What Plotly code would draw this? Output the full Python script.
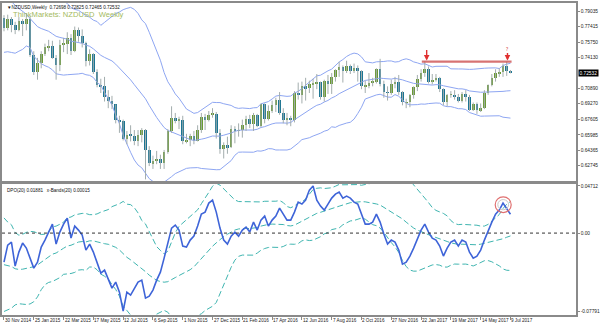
import numpy as np
import pandas as pd
import plotly.graph_objects as go

# ---------------- data ----------------
tick_labels = ["30 Nov 2014", "25 Jan 2015", "22 Mar 2015", "17 May 2015", "12 Jul 2015",
               "6 Sep 2015", "1 Nov 2015", "27 Dec 2015", "21 Feb 2016", "17 Apr 2016",
               "12 Jun 2016", "7 Aug 2016", "2 Oct 2016", "27 Nov 2016", "22 Jan 2017",
               "19 Mar 2017", "14 May 2017", "9 Jul 2017"]
tick_step = 8

price_ticks = [0.79035, 0.77415, 0.75750, 0.74130, 0.70890, 0.69270, 0.67605,
               0.65985, 0.64365, 0.62745, 0.61125]
dpo_ticks = [0.04712, 0.0, -0.07791]
dpo_tick_text = ["0.04712", "0.00", "-0.07791"]

# weekly closes before the visible window (Bollinger warm-up only)
pre_closes = [0.8640, 0.8500,
              0.8470, 0.8480, 0.8400, 0.8370, 0.8360,
              0.8170, 0.8160, 0.7850, 0.7760,
              0.7870, 0.7940, 0.7860, 0.7780,
              0.7680, 0.7860, 0.7900, 0.7830]

opens = [0.7830, 0.7720, 0.7820, 0.7760, 0.7700, 0.7800, 0.7770, 0.7820, 0.7440, 0.7260,
         0.7360, 0.7450, 0.7520, 0.7530, 0.7410, 0.7330, 0.7550, 0.7560, 0.7620, 0.7480,
         0.7700, 0.7640, 0.7570, 0.7380, 0.7450, 0.7260, 0.7120, 0.7110, 0.7000, 0.6960,
         0.6920, 0.6760, 0.6740, 0.6560, 0.6600, 0.6590, 0.6530, 0.6600, 0.6650, 0.6440,
         0.6300, 0.6320, 0.6350, 0.6300, 0.6420, 0.6640, 0.6780, 0.6750, 0.6760, 0.6530,
         0.6550, 0.6590, 0.6530, 0.6650, 0.6790, 0.6760, 0.6810, 0.6820, 0.6620, 0.6450,
         0.6490, 0.6470, 0.6660, 0.6640, 0.6650, 0.6700, 0.6770, 0.6710, 0.6810, 0.6690,
         0.6920, 0.6770, 0.6850, 0.6910, 0.6970, 0.6830, 0.6760, 0.6770, 0.6760, 0.7040,
         0.7020, 0.7110, 0.7090, 0.7130, 0.7140, 0.7160, 0.7000, 0.7170, 0.7140, 0.7210,
         0.7280, 0.7310, 0.7270, 0.7320, 0.7270, 0.7300, 0.7270, 0.7110, 0.7110, 0.7150,
         0.7160, 0.7290, 0.7140, 0.7050, 0.7040, 0.7140, 0.7160, 0.7050, 0.6940, 0.6940,
         0.7020, 0.7100, 0.7190, 0.7250, 0.7290, 0.7160, 0.7180, 0.7200, 0.7080, 0.6940,
         0.7020, 0.7020, 0.7000, 0.6960, 0.7030, 0.7000, 0.6860, 0.6920, 0.6860, 0.6880,
         0.7040, 0.7120, 0.7200, 0.7250, 0.7260, 0.7320, 0.72698]
highs = [0.7860, 0.7865, 0.7840, 0.7790, 0.7840, 0.7820, 0.7880, 0.7850, 0.7480, 0.7410,
         0.7480, 0.7560, 0.7600, 0.7590, 0.7440, 0.7600, 0.7620, 0.7680, 0.7660, 0.7740,
         0.7730, 0.7710, 0.7580, 0.7500, 0.7460, 0.7290, 0.7190, 0.7210, 0.7070, 0.7010,
         0.6920, 0.6800, 0.6760, 0.6640, 0.6700, 0.6650, 0.6650, 0.6670, 0.6660, 0.6480,
         0.6380, 0.6430, 0.6390, 0.6440, 0.6660, 0.6900, 0.6830, 0.6790, 0.6800, 0.6610,
         0.6610, 0.6640, 0.6700, 0.6830, 0.6820, 0.6850, 0.6880, 0.6840, 0.6660, 0.6520,
         0.6580, 0.6700, 0.6690, 0.6720, 0.6760, 0.6800, 0.6810, 0.6830, 0.6820, 0.6930,
         0.6930, 0.6910, 0.6960, 0.6990, 0.7050, 0.6880, 0.6830, 0.6800, 0.7060, 0.7150,
         0.7160, 0.7200, 0.7170, 0.7190, 0.7240, 0.7160, 0.7180, 0.7230, 0.7250, 0.7290,
         0.7370, 0.7330, 0.7380, 0.7340, 0.7350, 0.7330, 0.7280, 0.7170, 0.7250, 0.7200,
         0.7300, 0.7400, 0.7170, 0.7110, 0.7180, 0.7210, 0.7230, 0.7060, 0.6980, 0.7030,
         0.7110, 0.7230, 0.7290, 0.7375, 0.7320, 0.7240, 0.7240, 0.7210, 0.7090, 0.7030,
         0.7060, 0.7070, 0.7030, 0.7050, 0.7070, 0.7020, 0.6940, 0.6940, 0.6930, 0.7070,
         0.7130, 0.7240, 0.7290, 0.7300, 0.7350, 0.7370, 0.72825]
lows = [0.7690, 0.7700, 0.7680, 0.7660, 0.7690, 0.7640, 0.7700, 0.7420, 0.7230, 0.7180,
        0.7300, 0.7430, 0.7480, 0.7400, 0.7180, 0.7270, 0.7470, 0.7450, 0.7440, 0.7470,
        0.7580, 0.7520, 0.7320, 0.7330, 0.7240, 0.7100, 0.7040, 0.6950, 0.6880, 0.6870,
        0.6720, 0.6620, 0.6540, 0.6500, 0.6530, 0.6490, 0.6480, 0.6520, 0.6130, 0.6270,
        0.6240, 0.6290, 0.6240, 0.6240, 0.6400, 0.6620, 0.6720, 0.6660, 0.6500, 0.6510,
        0.6480, 0.6500, 0.6530, 0.6620, 0.6650, 0.6740, 0.6780, 0.6560, 0.6400, 0.6350,
        0.6400, 0.6460, 0.6510, 0.6580, 0.6570, 0.6640, 0.6670, 0.6640, 0.6680, 0.6680,
        0.6720, 0.6750, 0.6830, 0.6840, 0.6810, 0.6720, 0.6700, 0.6690, 0.6730, 0.6970,
        0.6930, 0.6960, 0.7040, 0.6980, 0.7080, 0.6970, 0.6950, 0.7030, 0.7030, 0.7160,
        0.7210, 0.7150, 0.7250, 0.7240, 0.7250, 0.7160, 0.7080, 0.7040, 0.7090, 0.7110,
        0.7140, 0.7110, 0.6990, 0.6960, 0.7020, 0.7090, 0.7020, 0.6910, 0.6880, 0.6890,
        0.6980, 0.7060, 0.7160, 0.7210, 0.7140, 0.7130, 0.7160, 0.7050, 0.6910, 0.6900,
        0.6990, 0.6970, 0.6940, 0.6940, 0.6950, 0.6850, 0.6850, 0.6820, 0.6840, 0.6870,
        0.7020, 0.7110, 0.7160, 0.7210, 0.7210, 0.7220, 0.72465]
closes = [0.7720, 0.7820, 0.7760, 0.7700, 0.7800, 0.7770, 0.7820, 0.7440, 0.7260, 0.7360,
          0.7450, 0.7520, 0.7530, 0.7410, 0.7330, 0.7550, 0.7560, 0.7620, 0.7480, 0.7700,
          0.7640, 0.7570, 0.7380, 0.7450, 0.7260, 0.7120, 0.7110, 0.7000, 0.6960, 0.6920,
          0.6760, 0.6740, 0.6560, 0.6600, 0.6590, 0.6530, 0.6600, 0.6650, 0.6440, 0.6300,
          0.6320, 0.6350, 0.6300, 0.6420, 0.6640, 0.6780, 0.6750, 0.6760, 0.6530, 0.6550,
          0.6590, 0.6530, 0.6650, 0.6790, 0.6760, 0.6810, 0.6820, 0.6620, 0.6450, 0.6490,
          0.6470, 0.6660, 0.6640, 0.6650, 0.6700, 0.6770, 0.6710, 0.6810, 0.6690, 0.6920,
          0.6770, 0.6850, 0.6910, 0.6970, 0.6830, 0.6760, 0.6770, 0.6760, 0.7040, 0.7020,
          0.7110, 0.7090, 0.7130, 0.7140, 0.7160, 0.7000, 0.7170, 0.7140, 0.7210, 0.7280,
          0.7310, 0.7270, 0.7320, 0.7270, 0.7300, 0.7270, 0.7110, 0.7110, 0.7150, 0.7160,
          0.7290, 0.7140, 0.7050, 0.7040, 0.7140, 0.7160, 0.7050, 0.6940, 0.6940, 0.7020,
          0.7100, 0.7190, 0.7250, 0.7290, 0.7160, 0.7180, 0.7200, 0.7080, 0.6940, 0.7020,
          0.7020, 0.7000, 0.6960, 0.7030, 0.7000, 0.6860, 0.6920, 0.6860, 0.6880, 0.7040,
          0.7120, 0.7200, 0.7250, 0.7260, 0.7320, 0.7270, 0.72532]

dpo_values = [-0.029, -0.012, -0.009, -0.033, -0.019, -0.010, -0.015, -0.025, -0.035, -0.029,
              -0.014, -0.007, 0.001, 0.009, -0.011, 0.001, 0.009, 0.015, -0.005, 0.007,
              0.003, -0.002, -0.017, -0.011, -0.019, -0.030, -0.040, -0.037, -0.047, -0.055,
              -0.049, -0.059, -0.0779, -0.059, -0.062, -0.055, -0.049, -0.047, -0.065, -0.063,
              -0.057, -0.047, -0.039, -0.025, -0.009, 0.005, 0.008, 0.003, -0.013, -0.014,
              -0.007, -0.003, 0.007, 0.019, 0.021, 0.030, 0.033, 0.021, 0.005, -0.007,
              -0.011, -0.003, 0.001, -0.003, 0.003, 0.006, 0.001, 0.011, 0.003, 0.013,
              0.017, 0.007, 0.013, 0.017, 0.025, 0.019, 0.013, 0.013, 0.021, 0.031,
              0.029, 0.033, 0.043, 0.0471, 0.033, 0.027, 0.023, 0.029, 0.035, 0.039,
              0.041, 0.035, 0.037, 0.035, 0.031, 0.029, 0.018, 0.009, 0.009, 0.011,
              0.019, 0.011, -0.001, -0.011, -0.007, -0.009, -0.017, -0.031, -0.029, -0.023,
              -0.015, -0.005, 0.003, 0.009, 0.001, -0.005, -0.007, -0.013, -0.023, -0.015,
              -0.009, -0.007, -0.013, -0.007, -0.009, -0.019, -0.025, -0.023, -0.017, -0.007,
              0.003, 0.011, 0.019, 0.023, 0.030, 0.025, 0.01881]
# DPO values of the weeks before the window (Bands warm-up only)
pre_dpo = [0.010, 0.005, 0.012, -0.005, -0.015, -0.030, -0.040, -0.055, -0.065, -0.070,
           -0.060, -0.050, -0.045, -0.035, -0.040, -0.045, -0.030, -0.020, -0.025]

resistance_level = 0.7371
resistance_from, resistance_to = 113, 136

# ---------------- indicators (Bollinger 20/2 on price, Bands 20/2 on DPO) ----------------
n = len(closes)
s = pd.Series(pre_closes + closes, index=range(-len(pre_closes), n))
mid = s.rolling(20).mean()
sd = s.rolling(20).std(ddof=0)
upper, lower = mid + 2 * sd, mid - 2 * sd

d = pd.Series(pre_dpo + dpo_values, index=range(-len(pre_dpo), n))
dmid = d.rolling(20).mean()
dsd = d.rolling(20).std(ddof=0)
dup, dlo = dmid + 2 * dsd, dmid - 2 * dsd

# ---------------- figure ----------------
BULL = "#6a9a34"
BEAR = "#1b7593"
WICK = "#a3adad"
BB = "#8ea6f2"
DPOC = "#3e64d8"
DB = "#3fb5b0"
AX = "#8a8a8a"
FONT = "Liberation Sans"

fig = go.Figure()
for band in (upper, mid, lower):
    fig.add_trace(go.Scatter(x=list(s.index), y=band.values, mode="lines",
                             line=dict(color=BB, width=1), hoverinfo="skip",
                             xaxis="x", yaxis="y"))

wx, wy = [], []
for i in range(n):
    wx += [i, i, None]
    wy += [lows[i], highs[i], None]
fig.add_trace(go.Scatter(x=wx, y=wy, mode="lines", line=dict(color=WICK, width=1),
                         hoverinfo="skip", xaxis="x", yaxis="y"))

for bull, col in ((True, BULL), (False, BEAR)):
    ids = [i for i in range(n) if (closes[i] >= opens[i]) == bull]
    base = [min(opens[i], closes[i]) for i in ids]
    hgt = [max(abs(closes[i] - opens[i]), 0.0004) for i in ids]
    fig.add_trace(go.Bar(x=ids, y=hgt, base=base, width=0.72,
                         marker=dict(color=col, line=dict(width=0)),
                         xaxis="x", yaxis="y", hoverinfo="skip"))

for band in (dup, dmid, dlo):
    fig.add_trace(go.Scatter(x=list(d.index), y=band.values, mode="lines",
                             line=dict(color=DB, width=1, dash="6px,3px"),
                             hoverinfo="skip", xaxis="x2", yaxis="y2"))
fig.add_trace(go.Scatter(x=list(range(n)), y=dpo_values, mode="lines",
                         line=dict(color=DPOC, width=1.6), hoverinfo="skip",
                         xaxis="x2", yaxis="y2"))

# resistance line
fig.add_trace(go.Scatter(x=[resistance_from - 0.8, resistance_to + 0.3],
                         y=[resistance_level, resistance_level], mode="lines",
                         line=dict(color="rgba(205,80,80,0.8)", width=2.2),
                         hoverinfo="skip", xaxis="x", yaxis="y"))

px_per_bar = 3.75
plot_w = 578
r0 = -2 / px_per_bar
r1 = r0 + plot_w / px_per_bar

ann = []
for k, lab in enumerate(tick_labels):
    ann.append(dict(x=k * tick_step, y=0, xref="x2", yref="paper", text=lab,
                    showarrow=False, xanchor="left", yanchor="top", xshift=-1, yshift=-1,
                    font=dict(size=4.6, color="#222", family=FONT)))
ann.append(dict(x=0.005, y=1, xref="paper", yref="paper", xanchor="left", yanchor="top",
                showarrow=False,
                text="▼NZDUSD,Weekly  0.72698 0.72825 0.72465 0.72532",
                font=dict(size=4.6, color="#111", family=FONT)))
ann.append(dict(x=0.015, y=0.985, xref="paper", yref="paper", xanchor="left", yanchor="top",
                showarrow=False, text="ThinkMarkets: NZDUSD  Weekly",
                font=dict(size=7.6, color="#a3ba5e", family=FONT)))
ann.append(dict(x=0.006, y=0.4199, xref="paper", yref="paper", xanchor="left", yanchor="top",
                yshift=-2, showarrow=False,
                text="DPO(20) 0.01881   x-Bands(20) 0.00015",
                font=dict(size=4.6, color="#111", family=FONT)))
ann.append(dict(x=1, y=closes[-1], xref="paper", yref="y", xanchor="left", xshift=2,
                showarrow=False, text="%.5f" % closes[-1], bgcolor="#000",
                font=dict(size=4.8, color="#fff", family=FONT), borderpad=0.5))
for xa, q in ((113.5, ""), (135.2, "?")):
    ann.append(dict(x=xa, y=resistance_level + 0.001, xref="x", yref="y", ax=0, ay=-12,
                    showarrow=True, arrowhead=2, arrowsize=0.8, arrowwidth=1.4,
                    arrowcolor="#e03030", text=q, font=dict(size=5, color="#d03030")))

shapes = [dict(type="line", xref="paper", yref="y2", x0=0, x1=1, y0=0, y1=0,
               line=dict(color="#333", width=1, dash="dot")),
          dict(type="circle", xref="x", yref="y2", x0=131.9, x1=136.2,
               y0=0.0205, y1=0.0363, line=dict(color="#e07070", width=1.2)),
          dict(type="circle", xref="x", yref="y2", x0=132.6, x1=135.5,
               y0=0.0233, y1=0.0335, line=dict(color="#c8c8c8", width=1))]

axis_common = dict(showgrid=False, zeroline=False, showline=True, mirror=True,
                   linecolor=AX, linewidth=1.5)
fig.update_layout(
    width=600, height=327, margin=dict(l=0, r=22, t=3, b=12),
    paper_bgcolor="white", plot_bgcolor="white", showlegend=False,
    barmode="overlay", bargap=0,
    xaxis=dict(domain=[0, 1], range=[r0, r1], anchor="y", showticklabels=False,
               ticks="", **axis_common),
    xaxis2=dict(domain=[0, 1], range=[r0, r1], anchor="y2", matches="x",
                showticklabels=False, tickvals=[k * tick_step for k in range(len(tick_labels))],
                ticks="outside", ticklen=3, tickcolor=AX, **axis_common),
    yaxis=dict(domain=[0.4295, 1], range=[0.6113, 0.7988], side="right",
               tickvals=price_ticks, ticktext=["%.5f" % v for v in price_ticks],
               ticks="outside", ticklen=2, tickcolor=AX,
               tickfont=dict(size=4.8, color="#222", family=FONT), **axis_common),
    yaxis2=dict(domain=[0, 0.4199], range=[-0.0819, 0.0491], side="right",
                tickvals=dpo_ticks, ticktext=dpo_tick_text,
                ticks="outside", ticklen=2, tickcolor=AX,
                tickfont=dict(size=4.8, color="#222", family=FONT), **axis_common),
    annotations=ann, shapes=shapes,
)
fig.write_html("out.html")
